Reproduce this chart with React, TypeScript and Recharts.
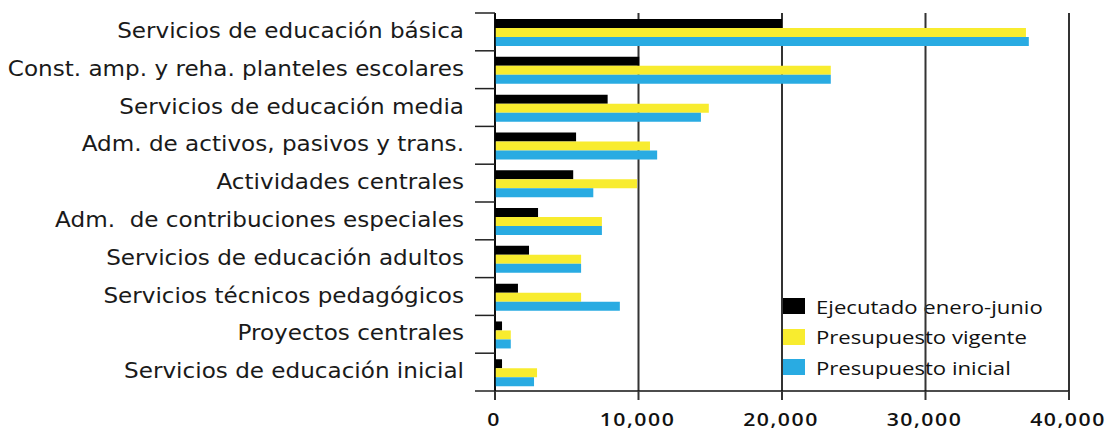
import React from 'react';
import { BarChart, Bar, XAxis, YAxis, CartesianGrid } from 'recharts';

const categories = [
  'Servicios de educación básica',
  'Const. amp. y reha. planteles escolares',
  'Servicios de educación media',
  'Adm. de activos, pasivos y trans.',
  'Actividades centrales',
  'Adm.  de contribuciones especiales',
  'Servicios de educación adultos',
  'Servicios técnicos pedagógicos',
  'Proyectos centrales',
  'Servicios de educación inicial',
];

const ejecutado = [20000, 10050, 7850, 5650, 5450, 3000, 2370, 1600, 490, 490];
const vigente = [37000, 23400, 14900, 10800, 9900, 7450, 6000, 6000, 1100, 2930];
const inicial = [37200, 23400, 14350, 11300, 6850, 7450, 6000, 8700, 1100, 2720];

const xTicks = [0, 10000, 20000, 30000, 40000];

const seriesNames = ['Ejecutado enero-junio', 'Presupuesto vigente', 'Presupuesto inicial'];
const seriesColors = ['#000000', '#F8EC2F', '#29ABE2'];

const data = categories.map((name, i) => ({
  name,
  ejecutado: ejecutado[i],
  vigente: vigente[i],
  inicial: inicial[i],
}));

const W = 1110;
const H = 432;
const M_TOP = 13;
const X_AXIS_H = 41;
const Y_AXIS_W = 495;
const M_RIGHT = 41;
const PLOT_H = H - M_TOP - X_AXIS_H;
const BAND = PLOT_H / categories.length;

const YTick = (props: any) => {
  const { y, payload, index } = props;
  return (
    <g>
      <line x1={475} x2={495} y1={y - BAND / 2} y2={y - BAND / 2} stroke="#222" strokeWidth={1.5} />
      {index === categories.length - 1 && (
        <line x1={475} x2={495} y1={y + BAND / 2} y2={y + BAND / 2} stroke="#222" strokeWidth={1.5} />
      )}
      <text
        transform={`translate(464, ${y - 1}) scale(1.1, 1)`}
        x={0}
        y={0}
        textAnchor="end"
        dominantBaseline="central"
        fontFamily="DejaVu Sans"
        fontSize={21}
        fill="#1a1a1a"
        style={{ whiteSpace: 'pre' }}
      >
        {payload.value}
      </text>
    </g>
  );
};

const XTick = (props: any) => {
  const { x, payload } = props;
  return (
    <text
      transform={`translate(${x - 1}, 419) scale(1.18, 1)`}
      x={0}
      y={0}
      textAnchor="middle"
      dominantBaseline="central"
      fontFamily="Open Sans"
      fontWeight={600}
      fontSize={18}
      letterSpacing={1.3}
      fill="#111"
    >
      {Number(payload.value).toLocaleString('en-US')}
    </text>
  );
};

const LegendBox = () => (
  <div
    style={{
      position: 'absolute',
      left: 782,
      top: 291,
      fontFamily: 'Open Sans',
      fontSize: 18.6,
      fontWeight: 500,
      color: '#111',
      whiteSpace: 'nowrap',
    }}
  >
    {seriesNames.map((n, i) => (
      <div key={n} style={{ display: 'flex', alignItems: 'center', height: 30.5 }}>
        <div style={{ width: 23, height: 16, background: seriesColors[i], marginRight: 11 }} />
        <span style={{ display: 'inline-block', transform: 'scaleX(1.19)', transformOrigin: 'left center' }}>{n}</span>
      </div>
    ))}
  </div>
);

export default function App() {
  return (
    <div style={{ position: 'absolute', left: 0, top: 0, width: W, height: H }}>
      <LegendBox />
      <div style={{ position: 'absolute', left: 0, top: 0 }}>
        <BarChart
          width={W}
          height={H}
          data={data}
          layout="vertical"
          margin={{ top: M_TOP, right: M_RIGHT, bottom: 0, left: 0 }}
          barGap={0}
          barCategoryGap="16%"
        >
          <CartesianGrid horizontal={false} vertical={true} stroke="#333" strokeWidth={2} />
          <XAxis
            type="number"
            domain={[0, 40000]}
            ticks={xTicks}
            height={X_AXIS_H}
            axisLine={{ stroke: '#111', strokeWidth: 1.5 }}
            tickLine={{ stroke: '#333', strokeWidth: 2 }}
            tickSize={9}
            tick={<XTick />}
            interval={0}
          />
          <YAxis
            type="category"
            dataKey="name"
            width={Y_AXIS_W}
            axisLine={{ stroke: '#000', strokeWidth: 1.5 }}
            tickLine={false}
            tick={<YTick />}
            interval={0}
          />
          <Bar dataKey="ejecutado" name={seriesNames[0]} fill={seriesColors[0]} isAnimationActive={false} />
          <Bar dataKey="vigente" name={seriesNames[1]} fill={seriesColors[1]} isAnimationActive={false} />
          <Bar dataKey="inicial" name={seriesNames[2]} fill={seriesColors[2]} isAnimationActive={false} />
        </BarChart>
      </div>
    </div>
  );
}
